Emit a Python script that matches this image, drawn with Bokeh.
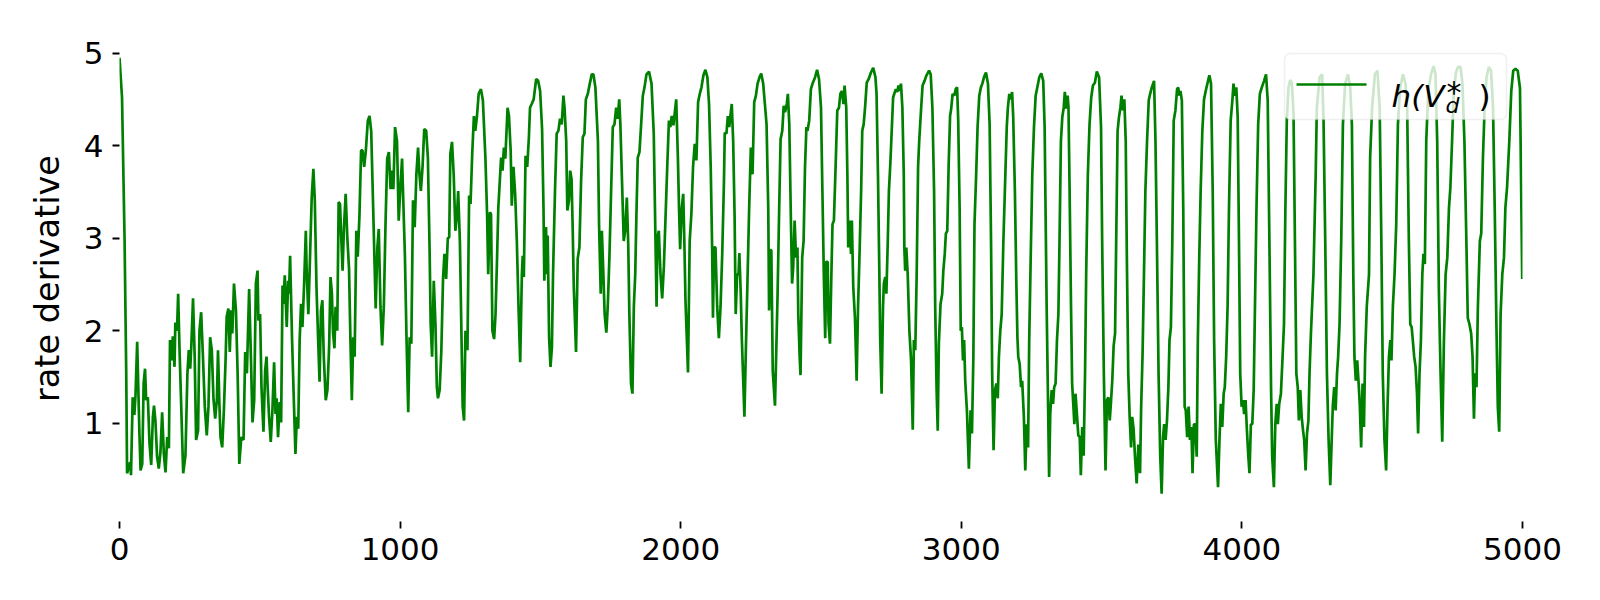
from bokeh.plotting import figure
from bokeh.models import Range1d, FixedTicker, Label, BoxAnnotation, Arrow
from bokeh.embed import file_html
from bokeh.resources import INLINE

# ---- data ----
steps = [
    0, 9, 18, 24, 27, 38, 41, 47, 53, 57,
    63, 71, 75, 81, 86, 91, 95, 101, 107, 113,
    119, 123, 128, 134, 140, 146, 152, 158, 164, 170,
    176, 180, 186, 190, 196, 199, 205, 209, 214, 220,
    227, 235, 242, 247, 252, 256, 262, 268, 273, 280,
    285, 291, 297, 304, 311, 317, 323, 329, 335, 341,
    347, 351, 356, 360, 366, 372, 378, 382, 388, 393,
    398, 402, 408, 415, 421, 427, 434, 442, 448, 454,
    462, 468, 474, 480, 486, 492, 495, 501, 506, 513,
    519, 524, 528, 533, 539, 545, 551, 556, 560, 565,
    571, 576, 581, 584, 589, 596, 601, 604, 608, 615,
    622, 627, 632, 637, 642, 647, 652, 658, 664, 667,
    673, 679, 685, 691, 696, 702, 708, 713, 718, 723,
    728, 735, 741, 747, 752, 757, 761, 766, 770, 776,
    781, 786, 790, 795, 800, 806, 812, 818, 823, 828,
    833, 838, 844, 849, 855, 861, 866, 872, 878, 885,
    891, 897, 904, 913, 919, 924, 930, 936, 942, 948,
    954, 960, 966, 972, 976, 982, 989, 995, 1001, 1007,
    1011, 1017, 1023, 1029, 1034, 1040, 1046, 1052, 1058, 1064,
    1069, 1074, 1080, 1086, 1093, 1099, 1105, 1109, 1114, 1120,
    1126, 1131, 1135, 1141, 1147, 1153, 1158, 1164, 1170, 1175,
    1179, 1185, 1191, 1197, 1203, 1207, 1213, 1219, 1223, 1228,
    1233, 1240, 1246, 1251, 1257, 1263, 1268, 1274, 1280, 1288,
    1295, 1304, 1310, 1314, 1320, 1324, 1329, 1335, 1340, 1345,
    1350, 1355, 1360, 1365, 1370, 1375, 1383, 1388, 1394, 1398,
    1404, 1410, 1416, 1422, 1428, 1434, 1437, 1441, 1447, 1453,
    1459, 1463, 1469, 1476, 1485, 1492, 1499, 1506, 1511, 1514,
    1520, 1524, 1526, 1531, 1536, 1541, 1545, 1552, 1558, 1564,
    1570, 1576, 1582, 1586, 1592, 1596, 1602, 1606, 1611, 1615,
    1619, 1627, 1633, 1639, 1645, 1651, 1657, 1662, 1669, 1676,
    1683, 1689, 1696, 1705, 1709, 1715, 1719, 1724, 1729, 1735,
    1740, 1746, 1752, 1758, 1764, 1770, 1775, 1781, 1785, 1791,
    1797, 1802, 1808, 1813, 1817, 1823, 1828, 1833, 1838, 1842,
    1847, 1853, 1859, 1865, 1871, 1878, 1887, 1896, 1904, 1910,
    1914, 1917, 1922, 1928, 1934, 1940, 1946, 1952, 1958, 1963,
    1968, 1974, 1979, 1984, 1990, 1994, 1998, 2004, 2009, 2013,
    2017, 2022, 2026, 2032, 2038, 2044, 2050, 2056, 2062, 2068,
    2074, 2081, 2088, 2095, 2101, 2107, 2112, 2115, 2119, 2124,
    2130, 2136, 2142, 2148, 2154, 2157, 2163, 2168, 2173, 2177,
    2182, 2187, 2192, 2196, 2201, 2206, 2209, 2214, 2218, 2222,
    2227, 2233, 2238, 2244, 2250, 2256, 2262, 2268, 2274, 2281,
    2287, 2294, 2300, 2306, 2312, 2315, 2320, 2323, 2328, 2336,
    2345, 2351, 2356, 2362, 2367, 2372, 2378, 2382, 2387, 2393,
    2397, 2401, 2406, 2411, 2416, 2419, 2424, 2427, 2433, 2438,
    2443, 2448, 2452, 2458, 2464, 2471, 2479, 2486, 2493, 2500,
    2505, 2510, 2515, 2519, 2524, 2527, 2532, 2537, 2541, 2546,
    2552, 2558, 2564, 2569, 2575, 2580, 2584, 2590, 2594, 2597,
    2602, 2607, 2610, 2615, 2621, 2627, 2632, 2637, 2643, 2647,
    2652, 2657, 2663, 2670, 2678, 2686, 2694, 2698, 2703, 2708,
    2711, 2716, 2721, 2724, 2729, 2733, 2738, 2742, 2747, 2752,
    2757, 2761, 2767, 2772, 2776, 2780, 2785, 2790, 2795, 2797,
    2800, 2804, 2809, 2815, 2821, 2827, 2831, 2836, 2841, 2846,
    2850, 2857, 2862, 2869, 2876, 2885, 2891, 2897, 2903, 2907,
    2912, 2916, 2920, 2926, 2932, 2936, 2941, 2945, 2950, 2955,
    2960, 2964, 2969, 2975, 2980, 2985, 2989, 2994, 2998, 3002,
    3006, 3010, 3014, 3020, 3027, 3033, 3038, 3043, 3047, 3053,
    3058, 3064, 3070, 3075, 3081, 3088, 3095, 3101, 3106, 3110,
    3115, 3120, 3125, 3130, 3134, 3139, 3144, 3150, 3157, 3162,
    3166, 3171, 3176, 3181, 3185, 3191, 3196, 3200, 3203, 3208,
    3213, 3217, 3223, 3228, 3233, 3238, 3242, 3248, 3253, 3259,
    3265, 3271, 3278, 3285, 3292, 3297, 3304, 3313, 3317, 3322,
    3327, 3331, 3336, 3341, 3346, 3350, 3355, 3360, 3365, 3369,
    3374, 3379, 3382, 3386, 3391, 3395, 3399, 3403, 3407, 3412,
    3417, 3422, 3426, 3431, 3436, 3441, 3445, 3451, 3457, 3463,
    3469, 3476, 3483, 3491, 3498, 3502, 3508, 3514, 3519, 3524,
    3529, 3533, 3538, 3543, 3548, 3552, 3557, 3562, 3567, 3571,
    3576, 3581, 3586, 3590, 3595, 3600, 3605, 3609, 3614, 3619,
    3625, 3631, 3637, 3641, 3646, 3651, 3656, 3662, 3668, 3673,
    3679, 3687, 3692, 3697, 3703, 3709, 3714, 3719, 3723, 3728,
    3733, 3738, 3742, 3747, 3752, 3757, 3763, 3769, 3773, 3777,
    3781, 3786, 3791, 3796, 3800, 3805, 3810, 3815, 3820, 3824,
    3829, 3834, 3839, 3843, 3848, 3853, 3859, 3865, 3871, 3877,
    3884, 3890, 3896, 3901, 3907, 3915, 3920, 3925, 3930, 3935,
    3939, 3944, 3949, 3954, 3960, 3966, 3970, 3975, 3980, 3985,
    3989, 3994, 3999, 4004, 4008, 4013, 4018, 4023, 4027, 4032,
    4037, 4042, 4046, 4052, 4058, 4064, 4071, 4079, 4086, 4092,
    4098, 4104, 4108, 4114, 4119, 4124, 4128, 4133, 4139, 4145,
    4150, 4155, 4160, 4166, 4172, 4178, 4184, 4189, 4194, 4199,
    4203, 4208, 4213, 4218, 4222, 4227, 4232, 4237, 4241, 4246,
    4255, 4263, 4267, 4277, 4286, 4291, 4297, 4303, 4309, 4315,
    4320, 4324, 4329, 4334, 4339, 4343, 4348, 4354, 4360, 4368,
    4378, 4386, 4392, 4397, 4401, 4406, 4411, 4416, 4420, 4425,
    4430, 4435, 4439, 4445, 4453, 4457, 4464, 4474, 4483, 4491,
    4497, 4502, 4508, 4514, 4519, 4524, 4529, 4533, 4538, 4544,
    4550, 4556, 4564, 4574, 4583, 4589, 4595, 4600, 4605, 4609,
    4614, 4619, 4624, 4628, 4633, 4638, 4643, 4647, 4652, 4657,
    4664, 4674, 4683, 4690, 4696, 4702, 4708, 4714, 4720, 4726,
    4732, 4738, 4743, 4749, 4755, 4763, 4770, 4779, 4786, 4793,
    4800, 4805, 4811, 4817, 4822, 4827, 4831, 4836, 4841, 4848,
    4853, 4859, 4865, 4872, 4880, 4888, 4895, 4901, 4907, 4912,
    4917, 4922, 4928, 4934, 4939, 4945, 4953, 4960, 4967, 4975,
    4983, 4991, 4999,
]

rate_derivative = [
    4.95, 4.52, 3.0, 1.54, 0.46, 0.58, 0.44, 1.28, 1.09, 1.30,
    1.88, 0.89, 0.49, 0.56, 1.43, 1.59, 1.25, 1.28, 0.78, 0.55,
    1.07, 1.19, 1.03, 0.64, 0.51, 0.69, 1.12, 0.67, 0.47, 0.85,
    0.73, 1.90, 1.68, 1.94, 1.61, 2.09, 2.0, 2.40, 1.79, 1.18,
    0.46, 0.65, 1.54, 1.79, 1.59, 1.84, 2.35, 1.72, 0.82, 0.92,
    2.0, 2.20, 1.75, 1.18, 0.87, 1.18, 1.93, 1.79, 1.26, 1.05,
    1.25, 1.79, 1.21, 0.85, 0.74, 1.14, 1.68, 2.15, 2.24, 1.77,
    2.22, 1.97, 2.51, 2.22, 1.54, 0.56, 0.85, 0.82, 1.77, 1.54,
    2.45, 1.75, 1.01, 1.25, 2.51, 2.65, 2.11, 2.18, 1.39, 0.91,
    1.57, 1.72, 1.39, 1.07, 0.80, 1.14, 1.66, 1.10, 1.27, 0.85,
    1.23, 1.01, 2.49, 2.29, 2.60, 2.04, 2.54, 2.40, 2.81, 1.90,
    1.18, 0.67, 1.07, 0.94, 1.90, 2.29, 2.04, 2.51, 3.08, 2.65,
    2.18, 2.80, 3.44, 3.75, 3.41, 2.47, 1.90, 1.45, 2.22, 2.33,
    1.72, 1.25, 1.36, 1.82, 2.58, 2.40, 1.98, 1.81, 2.26, 2.0,
    3.39, 3.37, 3.03, 2.65, 3.12, 3.48, 3.0, 2.67, 1.90, 1.25,
    1.93, 1.72, 3.08, 2.80, 3.23, 3.95, 3.95, 3.77, 3.95, 4.27,
    4.32, 4.16, 3.33, 2.24, 2.90, 3.10, 2.26, 1.84, 2.26, 3.15,
    3.86, 3.93, 3.53, 3.73, 3.53, 4.20, 4.05, 3.19, 3.55, 3.86,
    3.44, 2.83, 1.90, 1.12, 1.93, 1.86, 3.41, 3.12, 3.69, 3.98,
    3.69, 3.51, 3.77, 4.18, 4.16, 3.87, 2.90, 2.07, 1.72, 2.54,
    2.07, 1.39, 1.27, 1.36, 1.79, 2.56, 2.83, 2.56, 3.0, 3.01,
    3.91, 4.04, 3.69, 3.08, 3.26, 3.51, 2.97, 1.90, 1.18, 1.03,
    2.0, 1.79, 3.46, 3.37, 3.91, 4.32, 4.16, 4.32, 4.56, 4.61,
    4.49, 3.87, 3.26, 2.61, 3.28, 3.26, 2.0, 1.91, 2.17, 2.72,
    3.33, 3.60, 3.87, 3.73, 3.98, 3.86, 4.41, 4.32, 3.95, 3.35,
    3.77, 3.48, 2.97, 2.26, 1.66, 2.61, 2.81, 2.58, 3.89, 3.77,
    4.09, 4.41, 4.45, 4.50, 4.72, 4.70, 4.59, 4.18, 3.33, 2.54,
    3.12, 2.61, 3.03, 1.93, 1.61, 1.82, 2.61, 3.51, 4.13, 4.16,
    4.29, 4.23, 4.54, 4.41, 4.05, 3.30, 3.41, 3.73, 3.64, 3.12,
    2.47, 1.77, 2.78, 2.90, 3.62, 4.09, 4.13, 4.50, 4.56, 4.67,
    4.77, 4.77, 4.63, 4.05, 3.15, 2.40, 3.08, 2.65, 2.18, 1.98,
    2.26, 2.80, 3.51, 4.20, 4.23, 4.41, 4.29, 4.50, 4.23, 3.60,
    2.97, 3.08, 3.44, 2.94, 2.18, 1.43, 1.32, 2.26, 2.61, 3.23,
    3.87, 3.93, 4.23, 4.54, 4.63, 4.77, 4.80, 4.67, 4.13, 3.0,
    2.26, 3.0, 3.08, 2.61, 2.35, 2.69, 3.23, 3.77, 4.27, 4.20,
    4.32, 4.22, 4.36, 4.50, 3.87, 3.33, 2.88, 3.33, 3.48, 2.97,
    2.33, 1.90, 1.55, 2.97, 3.26, 3.77, 4.02, 3.84, 4.47, 4.56,
    4.63, 4.76, 4.82, 4.74, 4.45, 3.77, 2.90, 2.14, 2.90, 2.90,
    2.26, 1.92, 2.26, 2.83, 3.59, 4.14, 4.13, 4.32, 4.20, 4.32,
    4.45, 4.05, 3.26, 2.18, 2.61, 2.61, 2.84, 2.40, 1.90, 1.54,
    1.07, 1.90, 2.54, 3.33, 3.98, 3.69, 4.47, 4.54, 4.67, 4.74,
    4.78, 4.67, 4.45, 4.23, 3.33, 2.22, 2.87, 2.87, 1.57, 1.19,
    2.36, 3.33, 4.07, 4.16, 4.43, 4.36, 4.45, 4.56, 4.23, 3.15,
    2.51, 2.69, 3.19, 2.79, 2.90, 2.18, 1.72, 1.52, 2.79, 2.97,
    3.77, 4.20, 4.16, 4.27, 4.61, 4.68, 4.74, 4.82, 4.72, 4.41,
    3.51, 2.61, 1.92, 2.75, 2.74, 2.07, 1.86, 2.61, 3.15, 3.19,
    3.77, 4.38, 4.41, 4.56, 4.59, 4.45, 4.65, 4.41, 3.69, 2.90,
    3.19, 2.83, 3.19, 2.47, 2.14, 1.46, 2.26, 2.79, 3.51, 4.16,
    4.23, 4.41, 4.68, 4.72, 4.79, 4.84, 4.74, 4.56, 3.69, 2.61,
    1.90, 1.32, 2.26, 2.51, 2.58, 2.40, 2.97, 3.51, 3.80, 4.16,
    4.52, 4.56, 4.61, 4.58, 4.65, 4.59, 4.67, 4.41, 3.69, 2.90,
    2.65, 2.90, 2.61, 2.0, 1.68, 0.93, 1.90, 1.79, 2.61, 3.77,
    4.05, 4.41, 4.65, 4.70, 4.76, 4.81, 4.77, 4.41, 3.51, 2.26,
    1.36, 0.92, 1.86, 2.29, 2.40, 2.65, 2.83, 3.05, 3.08, 3.80,
    4.32, 4.40, 4.56, 4.54, 4.61, 4.63, 4.27, 3.33, 2.0, 2.04,
    1.68, 1.90, 1.46, 1.14, 0.51, 1.14, 0.89, 1.72, 3.15, 3.69,
    4.20, 4.54, 4.63, 4.67, 4.74, 4.79, 4.67, 4.23, 2.97, 1.54,
    0.71, 1.36, 1.43, 1.27, 1.72, 2.0, 2.18, 2.97, 3.69, 4.20,
    4.41, 4.56, 4.50, 4.58, 4.31, 3.51, 2.54, 1.93, 1.72, 1.64,
    1.39, 1.46, 1.07, 0.49, 0.99, 0.74, 1.90, 2.90, 3.69, 4.20,
    4.54, 4.63, 4.74, 4.78, 4.70, 4.20, 2.30, 0.42, 1.10, 1.36,
    1.21, 1.39, 1.43, 1.90, 2.18, 2.97, 4.05, 4.31, 4.41, 4.58,
    4.40, 4.54, 4.41, 3.51, 2.26, 1.43, 1.21, 0.99, 1.32, 1.10,
    0.87, 0.85, 0.44, 0.96, 0.65, 1.54, 2.61, 3.69, 4.23, 4.52,
    4.65, 4.68, 4.80, 4.74, 4.20, 2.97, 1.54, 0.49, 1.25, 1.28,
    1.03, 1.21, 1.46, 1.84, 1.97, 2.97, 4.16, 4.31, 4.41, 4.54,
    4.38, 4.50, 4.05, 2.79, 1.54, 1.07, 0.74, 1.07, 0.94, 0.64,
    0.35, 0.77, 0.46, 1.18, 1.75, 2.61, 3.51, 4.05, 4.49, 4.56,
    4.63, 4.70, 4.05, 2.97, 1.54, 0.64, 0.24, 0.85, 0.99, 0.82,
    1.03, 1.39, 1.90, 2.04, 2.97, 4.27, 4.38, 4.61, 4.63, 4.54,
    4.59, 4.49, 3.33, 1.18, 1.14, 0.85, 1.18, 0.82, 0.96, 0.46,
    0.99, 0.99, 0.64, 1.90, 2.79, 3.51, 4.16, 4.50, 4.59, 4.67,
    4.76, 4.67, 3.51, 1.90, 0.82, 0.31, 0.82, 1.21, 0.96, 1.32,
    1.39, 1.72, 2.26, 3.33, 4.27, 4.49, 4.67, 4.54, 4.63, 4.31,
    3.15, 1.54, 1.18, 1.25, 1.10, 1.25, 0.92, 0.64, 0.46, 0.99,
    0.99, 1.36, 2.15, 3.33, 4.23, 4.56, 4.63, 4.70, 4.77, 4.49,
    2.97, 1.36, 0.64, 0.31, 0.99, 1.21, 0.99, 1.21, 1.32, 1.72,
    2.07, 3.33, 4.27, 4.63, 4.71, 4.68, 4.34, 2.97, 1.54, 1.39,
    1.03, 1.36, 1.07, 0.92, 0.82, 0.49, 0.89, 1.03, 1.54, 1.97,
    2.61, 3.69, 4.41, 4.74, 4.77, 4.27, 2.97, 1.54, 0.82, 0.33,
    0.82, 1.19, 1.39, 1.14, 1.54, 1.72, 2.07, 2.97, 4.23, 4.67,
    4.77, 4.63, 4.23, 2.61, 1.72, 1.46, 1.68, 1.43, 1.21, 0.74,
    1.43, 0.96, 1.72, 2.26, 2.61, 3.87, 4.41, 4.77, 4.81, 4.41,
    2.97, 1.54, 0.82, 0.49, 1.18, 1.72, 1.90, 1.68, 2.26, 2.61,
    3.15, 4.23, 4.63, 4.77, 4.67, 4.41, 2.97, 2.07, 2.04, 1.90,
    1.72, 1.61, 1.32, 0.89, 1.54, 1.90, 2.61, 2.83, 2.72, 4.05,
    4.59, 4.77, 4.86, 4.77, 4.05, 2.43, 1.54, 0.80, 1.90, 2.61,
    2.79, 3.33, 3.55, 4.05, 4.59, 4.79, 4.85, 4.85, 4.67, 4.05,
    2.97, 2.14, 2.07, 1.97, 1.72, 1.05, 1.54, 1.39, 2.26, 2.97,
    3.05, 3.87, 4.41, 4.74, 4.85, 4.81, 4.41, 3.33, 2.07, 1.18,
    0.91, 2.18, 2.61, 2.79, 3.33, 3.55, 4.05, 4.59, 4.81, 4.83,
    4.81, 4.62, 2.56,
]

x_ticks = [0, 1000, 2000, 3000, 4000, 5000]
y_ticks = [1, 2, 3, 4, 5]
y_label = "rate derivative"

FONT = "DejaVu Sans"
LINE_COLOR = "#008000"

p = figure(
    width=1584, height=584,
    output_backend="svg", toolbar_location=None,
    x_range=Range1d(0, 5000), y_range=Range1d(-0.061, 5.19),
    min_border_left=119, min_border_right=62,
    min_border_top=35, min_border_bottom=63,
)
p.background_fill_color = "white"
p.border_fill_color = "white"
p.outline_line_color = None
p.xgrid.visible = False
p.ygrid.visible = False

p.line(steps, rate_derivative, line_color=LINE_COLOR, line_width=2.7)

p.xaxis.ticker = FixedTicker(ticks=x_ticks)
p.yaxis.ticker = FixedTicker(ticks=y_ticks)
for ax in (p.xaxis[0], p.yaxis[0]):
    ax.axis_line_color = None
    ax.major_tick_out = 7
    ax.major_tick_in = 0
    ax.major_tick_line_width = 1.8
    ax.major_tick_line_color = "black"
    ax.minor_tick_line_color = None
    ax.major_label_text_font = FONT
    ax.major_label_text_font_size = "31px"
    ax.major_label_text_color = "black"
    ax.major_label_standoff = 9

p.yaxis.axis_label = y_label
p.yaxis.axis_label_text_font = FONT
p.yaxis.axis_label_text_font_size = "33.5px"
p.yaxis.axis_label_text_font_style = "normal"
p.yaxis.axis_label_text_color = "black"
p.yaxis.axis_label_standoff = 14

# ---- legend (drawn by hand for the sub/superscript label) ----
box = BoxAnnotation(
    left=1165, right=1387, top=468, bottom=402,
    left_units="screen", right_units="screen", top_units="screen", bottom_units="screen",
    fill_color="white", fill_alpha=0.8, line_color="#cccccc", line_width=1.5,
    border_radius=6,
)
p.add_layout(box)
p.add_layout(Arrow(end=None, x_start=1177, y_start=437, x_end=1247, y_end=437,
                   start_units="screen", end_units="screen",
                   line_color=LINE_COLOR, line_width=2.7))
p.add_layout(Label(x=1272, y=426, x_units="screen", y_units="screen", text="h(V",
                   text_font=FONT, text_font_style="italic", text_font_size="31px",
                   text_color="black", text_baseline="alphabetic"))
p.add_layout(Label(x=1326, y=416, x_units="screen", y_units="screen", text="d",
                   text_font=FONT, text_font_style="italic", text_font_size="22px",
                   text_color="black", text_baseline="alphabetic"))
p.add_layout(Label(x=1327, y=429, x_units="screen", y_units="screen", text="*",
                   text_font=FONT, text_font_size="30px",
                   text_color="black", text_baseline="alphabetic"))
p.add_layout(Label(x=1359, y=426, x_units="screen", y_units="screen", text=")",
                   text_font=FONT, text_font_size="31px",
                   text_color="black", text_baseline="alphabetic"))

open("out.html", "w").write(file_html(p, INLINE))
